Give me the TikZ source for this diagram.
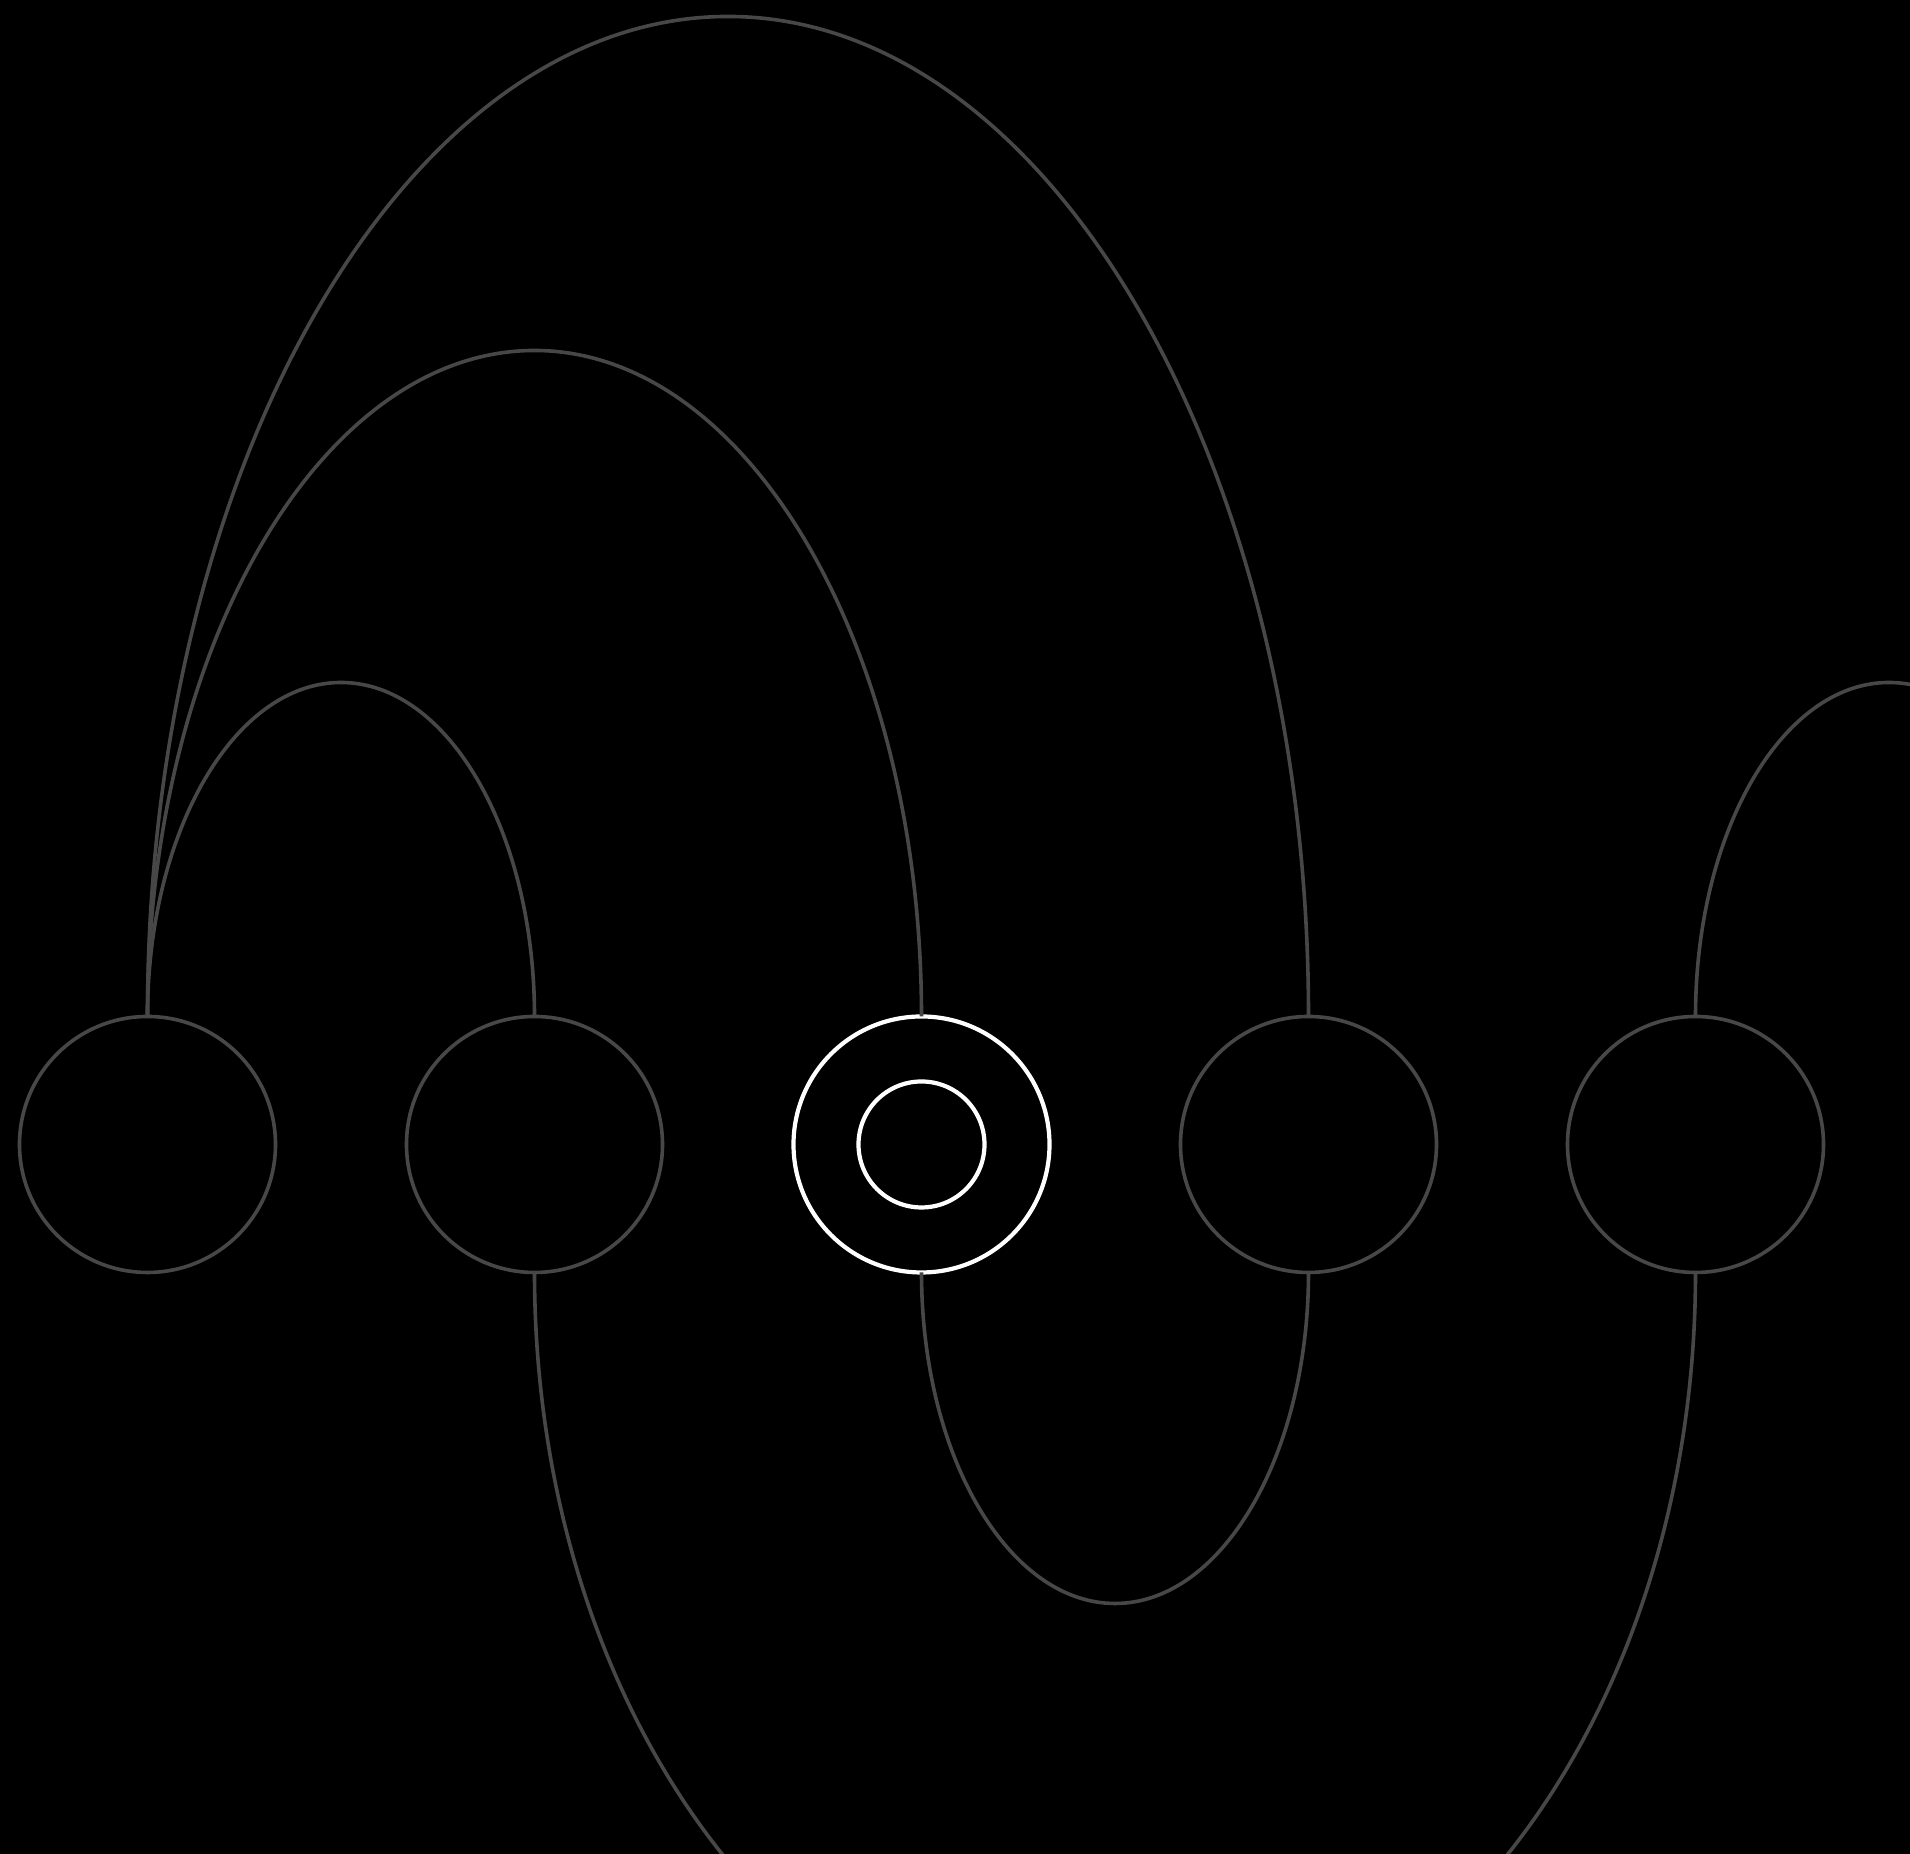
\documentclass[tikz,border=0pt]{standalone}
\usetikzlibrary{positioning}
\definecolor{gris}{HTML}{474747}
\begin{document}
\begin{tikzpicture}[
        nodo/.style={circle, draw=gris, line width=0.036cm, minimum size=2.56cm, inner sep=0pt, outer sep=0pt},
        activo/.style={draw=white, line width=0.042cm},
        arco/.style={draw=gris, line width=0.036cm}
    ]
        \fill[black] (0,0) rectangle (19.1,18.54);
        \useasboundingbox (0,0) rectangle (19.1,18.54);
        \clip (0,0) rectangle (19.1,18.54);
        % Nodos
        \node[nodo] (n1) at (1.475,7.095) {};
        \node[nodo, right=1.31cm of n1] (n2) {};
        \node[nodo, activo, right=1.31cm of n2] (n3) {};
        \node[nodo, activo, minimum size=1.26cm] (n3c) at (n3) {};
        \node[nodo, right=1.31cm of n3] (n4) {};
        \node[nodo, right=1.31cm of n4] (n5) {};
        \coordinate[right=3.87cm of n5.center] (n6);
        % Arcos superiores
        \draw[arco] (n1.north) arc[start angle=180, end angle=0, x radius=1.935cm, y radius=3.34cm];
        \draw[arco] (n1.north) arc[start angle=180, end angle=0, x radius=3.87cm, y radius=6.66cm];
        \draw[arco] (n1.north) arc[start angle=180, end angle=0, x radius=5.805cm, y radius=10cm];
        \draw[arco] (n5.north) arc[start angle=180, end angle=0, x radius=1.935cm, y radius=3.34cm];
        % Arcos inferiores
        \draw[arco] (n3.south) arc[start angle=180, end angle=360, x radius=1.935cm, y radius=3.31cm];
        \draw[arco] (n2.south) arc[start angle=180, end angle=360, x radius=5.805cm, y radius=7.9cm];
    \end{tikzpicture}
\end{document}
